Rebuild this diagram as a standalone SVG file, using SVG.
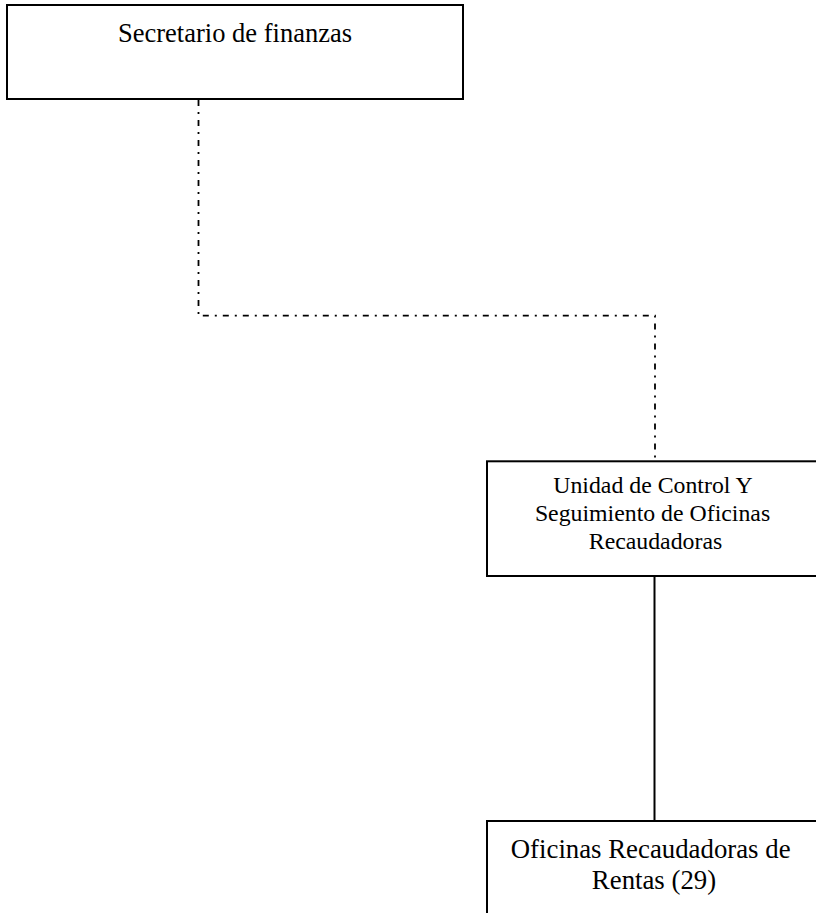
<svg xmlns="http://www.w3.org/2000/svg" width="816" height="913" viewBox="0 0 816 913">
  <style>
    .box { fill: #ffffff; stroke: #000000; stroke-width: 2; }
    .label { font-family: "Liberation Serif", "Times New Roman", serif; fill: #000000; text-anchor: middle; }
    .dashdot { fill: none; stroke: #000000; stroke-width: 1.8; stroke-dasharray: 6 6 2 6; }
    .solid { fill: none; stroke: #000000; stroke-width: 2; }
  </style>
  <rect width="816" height="913" fill="#ffffff"/>

  <g id="connectors">
    <path class="dashdot" d="M198.5 100 V315.7 H655 V460"/>
    <line class="solid" x1="654.5" y1="577" x2="654.5" y2="820"/>
  </g>

  <g id="secretario">
    <rect class="box" x="7" y="5" width="456" height="94"/>
    <text class="label" x="235" y="42" font-size="26.5">Secretario de finanzas</text>
  </g>

  <g id="unidad-control">
    <rect class="box" x="487" y="461.3" width="340" height="114.7"/>
    <text class="label" font-size="23.8">
      <tspan x="655.5" y="493">Unidad de Control Y</tspan>
      <tspan x="655.5" y="521">Seguimiento de Oficinas</tspan>
      <tspan x="655.5" y="549">Recaudadoras</tspan>
    </text>
  </g>

  <g id="oficinas-recaudadoras">
    <rect class="box" x="487" y="821" width="340" height="120"/>
    <text class="label" font-size="26.8">
      <tspan x="654" y="858">Oficinas Recaudadoras de</tspan>
      <tspan x="654" y="889">Rentas (29)</tspan>
    </text>
  </g>
</svg>
